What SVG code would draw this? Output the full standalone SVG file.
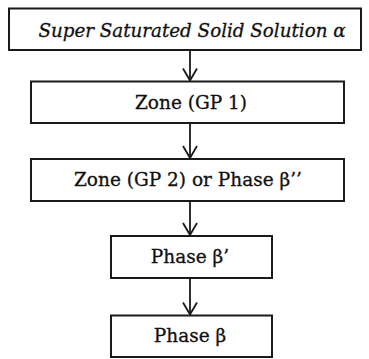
<svg xmlns="http://www.w3.org/2000/svg" width="369" height="359" viewBox="0 0 369 359">
<style>
.box{fill:#fff;stroke:#1a1a1a;stroke-width:2}
.t{font-family:'DejaVu Serif',serif;font-size:18.5px;fill:#111;stroke:#111;stroke-width:0.3;text-anchor:middle}
.i{font-style:italic;font-size:18.3px}
.c{stroke:#1a1a1a;stroke-width:1.8;fill:none}
</style>
<defs>
<marker id="ah" markerWidth="14" markerHeight="16" refX="13" refY="8" orient="auto" markerUnits="userSpaceOnUse" viewBox="0 0 14 16">
<path d="M1,1 L13,8 L1,15" fill="none" stroke="#1a1a1a" stroke-width="1.8"/>
</marker>
</defs>
<rect width="369" height="359" fill="#fff"/>
<g id="n1"><rect class="box" x="9" y="8.5" width="352" height="41.5"/><text class="t i" x="192" y="36.5">Super Saturated Solid Solution α</text></g>
<g id="n2"><rect class="box" x="31" y="81.5" width="313" height="41.5"/><text class="t" x="191" y="109">Zone (GP 1)</text></g>
<g id="n3"><rect class="box" x="31" y="159" width="313" height="42"/><text class="t" x="188" y="186">Zone (GP 2) or Phase β’’</text></g>
<g id="n4"><rect class="box" x="111" y="236" width="161" height="42"/><text class="t" x="190" y="263">Phase β’</text></g>
<g id="n5"><rect class="box" x="111" y="315.5" width="161" height="41.5"/><text class="t" x="190" y="342">Phase β</text></g>
<g id="connectors">
<line class="c" x1="190" y1="50" x2="190" y2="80.5" marker-end="url(#ah)"/>
<line class="c" x1="190" y1="123" x2="190" y2="158" marker-end="url(#ah)"/>
<line class="c" x1="190" y1="201" x2="190" y2="235" marker-end="url(#ah)"/>
<line class="c" x1="190" y1="278" x2="190" y2="314.5" marker-end="url(#ah)"/>
</g>
</svg>
